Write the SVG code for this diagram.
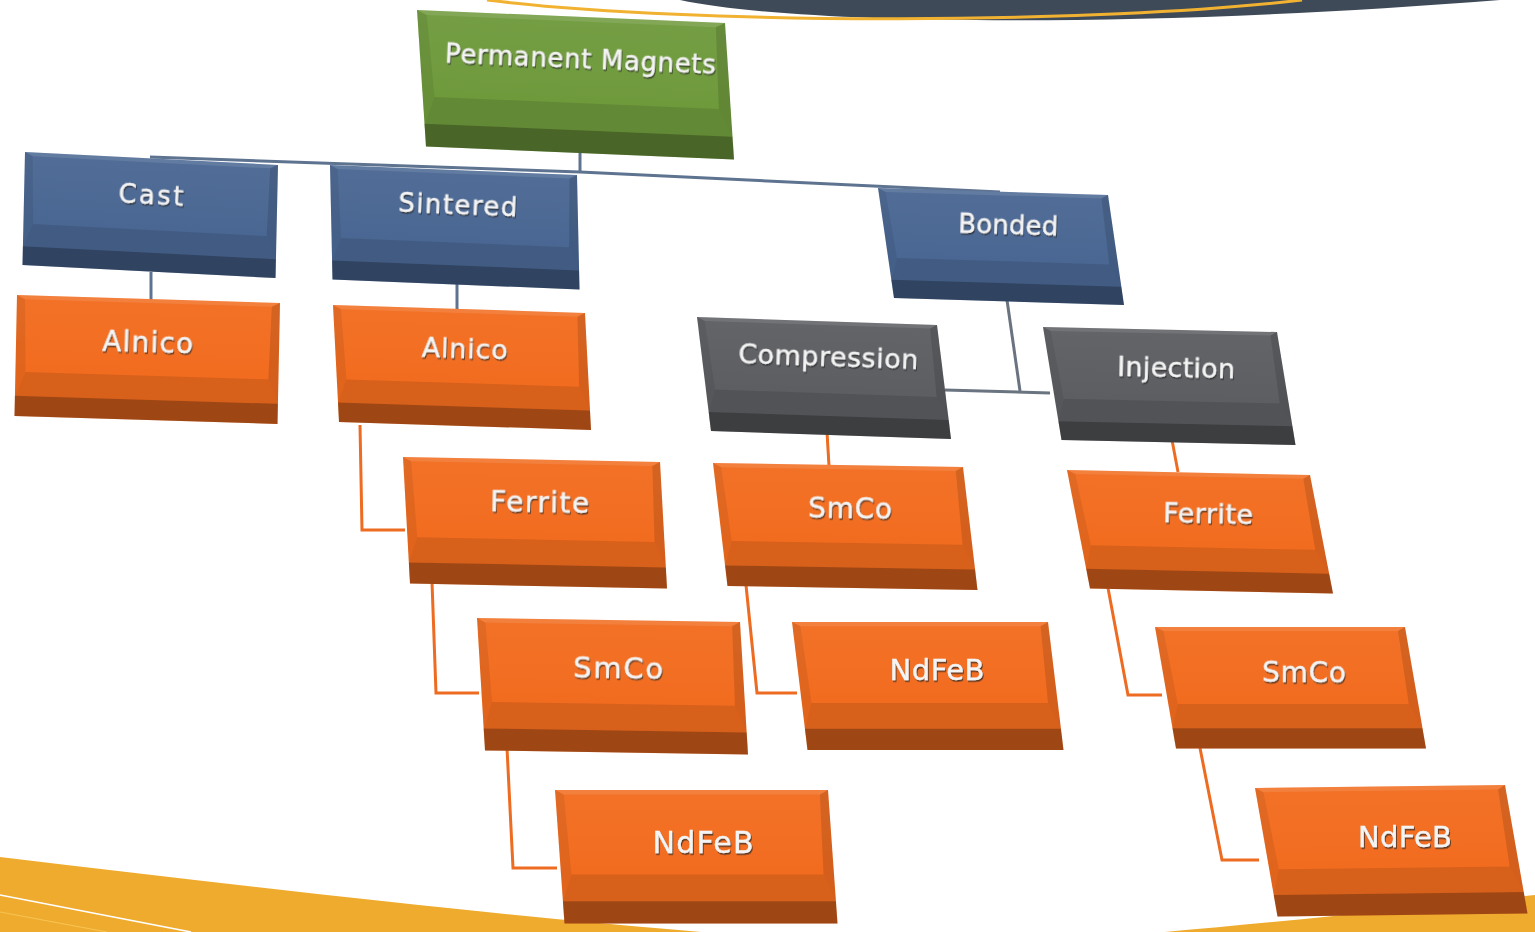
<svg xmlns="http://www.w3.org/2000/svg" xmlns:xlink="http://www.w3.org/1999/xlink" width="1535" height="932" viewBox="0 0 1535 932">
  <style>
    .label{font-family:"DejaVu Sans","Verdana","Liberation Sans",sans-serif;fill:#f4f4f4;stroke:#f4f4f4;stroke-width:0.35;text-anchor:middle;filter:url(#emboss)}
    .link{fill:none;stroke-width:3;stroke-linejoin:miter;stroke-linecap:butt}
    .slate{stroke:#5e7390}
    .grey{stroke:#6a7380}
    .amber{stroke:#ee6b22}
    .green{color:#6f9a3c}
    .blue{color:#4a6793}
    .orange{color:#f26c1f}
    .gray{color:#5c5e62}
  </style>
  <defs>
    <linearGradient id="faceShade" x1="0" y1="0" x2="0" y2="1">
      <stop offset="0" stop-color="#ffffff" stop-opacity="0.04"/>
      <stop offset="1" stop-color="#ffffff" stop-opacity="0"/>
    </linearGradient>
    <filter id="emboss" x="-10%" y="-30%" width="120%" height="160%">
      <feDropShadow dx="1" dy="1.6" stdDeviation="0.7" flood-color="#2b2b2b" flood-opacity="0.75"/>
    </filter>
    <!-- bevelled block in a 260 x 120 local frame; tinted through currentColor -->
    <g id="block">
      <rect x="0" y="0" width="260" height="120" fill="currentColor"/>
      <rect x="0" y="0" width="260" height="76" fill="url(#faceShade)"/>
      <polygon points="0,0 260,0 252,4 8,4" fill="#ffffff" fill-opacity="0.10"/>
      <polygon points="0,0 8,4 10,76 0,100" fill="#000000" fill-opacity="0.07"/>
      <polygon points="260,0 260,100 250,76 252,4" fill="#000000" fill-opacity="0.12"/>
      <polygon points="0,100 10,76 250,76 260,100" fill="#000000" fill-opacity="0.11"/>
      <rect x="0" y="100" width="260" height="20" fill="#000000" fill-opacity="0.34"/>
    </g>
  </defs>

  <rect width="1535" height="932" fill="#ffffff"/>

  <!-- page decoration -->
  <g id="backdrop">
    <path d="M680,0 C800,26 1150,28 1500,0 Z" fill="#3f4a59"/>
    <path d="M487,0 C700,26 1100,24 1302,0" fill="none" stroke="#f1b232" stroke-width="3"/>
    <path d="M0,857 C400,905 800,950 1000,945 C1150,935 1350,915 1535,895 L1535,932 L0,932 Z" fill="#efab2e"/>
    <path d="M0,895 L191,932" stroke="#ffffff" stroke-width="1.6" fill="none"/>
    <path d="M0,912 L107,932" stroke="#f6c352" stroke-width="1.2" fill="none"/>
  </g>

  <!-- connectors -->
  <g id="connectors">
    <path class="link slate" d="M150,157 L580,172 L1000,192"/>
    <path class="link slate" d="M580,150 L580,172"/>
    <path class="link slate" d="M151,272 L151,300"/>
    <path class="link slate" d="M457,280 L457,310"/>
    <path class="link grey" d="M1007,300 L1020,391"/>
    <path class="link grey" d="M945,390 L1050,393"/>
    <path class="link amber" d="M360,425 L362,530 L405,530"/>
    <path class="link amber" d="M432,582 L436,693 L479,693"/>
    <path class="link amber" d="M507,748 L513,868 L557,868"/>
    <path class="link amber" d="M827,432 L829,466"/>
    <path class="link amber" d="M746,585 L757,693 L797,693"/>
    <path class="link amber" d="M1172,440 L1178,472"/>
    <path class="link amber" d="M1108,588 L1128,695 L1162,695"/>
    <path class="link amber" d="M1200,748 L1222,860 L1259,860"/>
  </g>

  <g id="node-permanent-magnets">
    <use xlink:href="#block" class="green" transform="matrix(1.1846 0.05 0.075 1.1375 417 10)"/>
    <text class="label" x="580" y="68" font-size="26" textLength="271" transform="rotate(2.4 580 68)">Permanent Magnets</text>
  </g>

  <g id="node-cast">
    <use xlink:href="#block" class="blue" transform="matrix(0.9731 0.05 -0.0208 0.9417 25 152)"/>
    <text class="label" x="150.5" y="204" font-size="26" textLength="65" transform="rotate(2.9 150.5 204)">Cast</text>
  </g>

  <g id="node-sintered">
    <use xlink:href="#block" class="blue" transform="matrix(0.95 0.0385 0.0208 0.954 330 165)"/>
    <text class="label" x="457.5" y="214" font-size="26" textLength="119" transform="rotate(2.3 457.5 214)">Sintered</text>
  </g>

  <g id="node-bonded">
    <use xlink:href="#block" class="blue" transform="matrix(0.8846 0.0269 0.1333 0.9167 878 188)"/>
    <text class="label" x="1008" y="234" font-size="26" textLength="100" transform="rotate(1.7 1008 234)">Bonded</text>
  </g>

  <g id="node-cast-alnico">
    <use xlink:href="#block" class="orange" transform="matrix(1.0115 0.0308 -0.0208 1.0083 17 295)"/>
    <text class="label" x="147.5" y="352" font-size="28" textLength="91" transform="rotate(1.7 147.5 352)">Alnico</text>
  </g>

  <g id="node-sintered-alnico">
    <use xlink:href="#block" class="orange" transform="matrix(0.9692 0.0308 0.05 0.975 333 305)"/>
    <text class="label" x="464.5" y="358" font-size="27" textLength="86" transform="rotate(1.8 464.5 358)">Alnico</text>
  </g>

  <g id="node-compression">
    <use xlink:href="#block" class="gray" transform="matrix(0.9231 0.0308 0.1167 0.95 697 317)"/>
    <text class="label" x="828" y="366" font-size="27" textLength="180" transform="rotate(1.9 828 366)">Compression</text>
  </g>

  <g id="node-injection">
    <use xlink:href="#block" class="gray" transform="matrix(0.9 0.0192 0.1542 0.9417 1043 327)"/>
    <text class="label" x="1176" y="377" font-size="27" textLength="118" transform="rotate(1.2 1176 377)">Injection</text>
  </g>

  <g id="node-sintered-ferrite">
    <use xlink:href="#block" class="orange" transform="matrix(0.9885 0.0192 0.0583 1.054 403 457)"/>
    <text class="label" x="539.5" y="512" font-size="28" textLength="99" transform="rotate(1.1 539.5 512)">Ferrite</text>
  </g>

  <g id="node-compression-smco">
    <use xlink:href="#block" class="orange" transform="matrix(0.9615 0.0154 0.1208 1.025 713 463)"/>
    <text class="label" x="850" y="518" font-size="28" textLength="84" transform="rotate(0.9 850 518)">SmCo</text>
  </g>

  <g id="node-injection-ferrite">
    <use xlink:href="#block" class="orange" transform="matrix(0.9346 0.0192 0.1917 0.9875 1067 470)"/>
    <text class="label" x="1208" y="523" font-size="27" textLength="90" transform="rotate(1.2 1208 523)">Ferrite</text>
  </g>

  <g id="node-sintered-smco">
    <use xlink:href="#block" class="orange" transform="matrix(1.0115 0.0154 0.0667 1.104 477 618)"/>
    <text class="label" x="618" y="678" font-size="29" textLength="90" transform="rotate(0.9 618 678)">SmCo</text>
  </g>

  <g id="node-compression-ndfeb">
    <use xlink:href="#block" class="orange" transform="matrix(0.9846 0 0.1292 1.0667 792 622)"/>
    <text class="label" x="937" y="680" font-size="29" textLength="95">NdFeB</text>
  </g>

  <g id="node-injection-smco">
    <use xlink:href="#block" class="orange" transform="matrix(0.9615 0 0.175 1.0125 1155 627)"/>
    <text class="label" x="1304" y="682" font-size="28" textLength="84" transform="rotate(0.5 1304 682)">SmCo</text>
  </g>

  <g id="node-sintered-ndfeb">
    <use xlink:href="#block" class="orange" transform="matrix(1.05 0 0.0792 1.1125 555 790)"/>
    <text class="label" x="703" y="853" font-size="30" textLength="101">NdFeB</text>
  </g>

  <g id="node-injection-ndfeb">
    <use xlink:href="#block" class="orange" transform="matrix(0.9615 -0.0115 0.1875 1.0708 1255 788)"/>
    <text class="label" x="1405" y="847" font-size="29" textLength="94">NdFeB</text>
  </g>
</svg>
